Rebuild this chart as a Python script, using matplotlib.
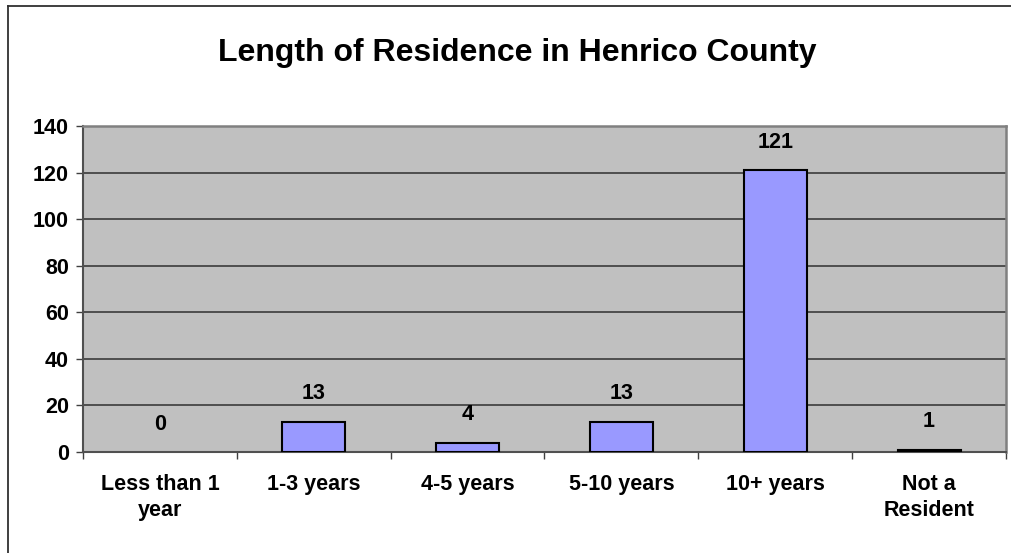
import matplotlib
matplotlib.use("Agg")
import matplotlib.pyplot as plt
from matplotlib.lines import Line2D
import numpy as np

categories = ["Less than 1\nyear", "1-3 years", "4-5 years", "5-10 years", "10+ years", "Not a\nResident"]
values = [0, 13, 4, 13, 121, 1]
yticks = [0, 20, 40, 60, 80, 100, 120, 140]
title = "Length of Residence in Henrico County"

plt.rcParams['font.family'] = ['Liberation Sans', 'DejaVu Sans']
plt.rcParams['font.weight'] = 'bold'

fig = plt.figure(figsize=(10.11, 5.53), dpi=100)
W, H = 1011, 553
ax = fig.add_axes([83 / W, 1 - 452 / H, (1006 - 83) / W, (452 - 126) / H])
ax.set_facecolor('#C0C0C0')

x = np.arange(len(categories))
edge_w = [0 if v == 0 else 1.5 for v in values]
ax.bar(x, values, width=0.41, color='#9999FF', edgecolor='black', linewidth=edge_w, zorder=3)
for xi, v in zip(x, values):
    ax.annotate(str(v), (xi, v), xytext=(0, 20), textcoords='offset points',
                ha='center', va='center', fontsize=15.5, fontweight='bold', zorder=4)

ax.set_xlim(-0.5, len(categories) - 0.5)
ax.set_ylim(0, 140)
ax.set_yticks(yticks)
ax.set_yticklabels([str(t) for t in yticks], fontsize=15.5, fontweight='bold')
ax.yaxis.grid(True, color='#303030', linewidth=1.1, zorder=1)
ax.set_axisbelow(True)

ax.set_xticks(x)
ax.set_xticklabels(categories, fontsize=15.5, fontweight='bold', linespacing=1.3)
ax.set_xticks(np.arange(-0.5, len(categories), 1.0), minor=True)
ax.tick_params(axis='x', which='major', length=0, pad=16)
ax.tick_params(axis='x', which='minor', length=5, width=1, color='#404040', direction='out')
ax.tick_params(axis='y', length=5, width=1, color='#404040', pad=5)

for side in ['top', 'right']:
    ax.spines[side].set_color('#808080')
    ax.spines[side].set_linewidth(1.8)
for side in ['left', 'bottom']:
    ax.spines[side].set_color('#505050')
    ax.spines[side].set_linewidth(1.5)

fig.text(517.5 / W, 1 - 53 / H, title, ha='center', va='center', fontsize=23, fontweight='bold')

# outer chart border (left and top visible)
fig.add_artist(Line2D([8 / W, 8 / W], [0, 1 - 6 / H], transform=fig.transFigure, color='#303030', linewidth=1.3))
fig.add_artist(Line2D([8 / W, 1], [1 - 6 / H, 1 - 6 / H], transform=fig.transFigure, color='#303030', linewidth=1.3))

fig.savefig("out.png", dpi=100)
